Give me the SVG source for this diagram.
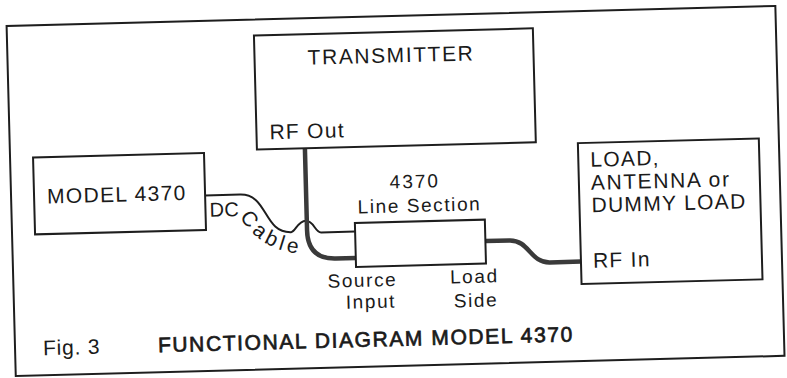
<svg xmlns="http://www.w3.org/2000/svg" width="787" height="378" viewBox="0 0 787 378">
<style>
.box{fill:none;stroke:#1e1e1e;stroke-width:2}
.t{font-family:"Liberation Sans",Arial,sans-serif;font-size:21px;fill:#1a1a1a;letter-spacing:1.3px}
.s{font-size:19px;letter-spacing:1.6px}
.m{text-anchor:middle}
.thick{fill:none;stroke:#3a3a3a;stroke-width:4.5}
.thin{fill:none;stroke:#1e1e1e;stroke-width:2}
</style>
<defs>
<path id="cablePath" d="M239,213 Q261,250 306,252"/>
</defs>
<rect width="787" height="378" fill="#ffffff"/>
<g transform="rotate(-1.5 393 189)">
<rect id="frame" class="box" x="11" y="16" width="769" height="350"/>
<g id="connectors">
<path class="thin" d="M205,190.5 H240 C268,190.5 262,229.5 290,229.5 C294,229.5 297,218.5 305,218.5 C313,218.5 314,230.5 320,230.5 H354"/>
<path class="thick" d="M306,146 V228 Q306,257 334,257 H354"/>
<path class="thick" d="M484,243.5 H508 C528,243.5 528,266.5 548,266.5 H579"/>
<text class="t" x="209" y="212" style="font-size:20px;letter-spacing:0.5px">DC</text>
<text class="t" style="font-size:21px;letter-spacing:4px"><textPath href="#cablePath">Cable</textPath></text>
</g>
<g id="transmitter">
<rect class="box" x="258" y="32" width="279" height="114"/>
<text class="t" x="311" y="62.5" style="letter-spacing:1.6px">TRANSMITTER</text>
<text class="t" x="271" y="136">RF Out</text>
</g>
<g id="model4370">
<rect class="box" x="34" y="148" width="171" height="77"/>
<text class="t" x="47" y="194.5">MODEL 4370</text>
</g>
<g id="linesection">
<rect class="box" x="354" y="222" width="130" height="44"/>
<text class="t s m" x="415" y="188.5" style="letter-spacing:2px">4370</text>
<text class="t s m" x="419" y="212.5">Line Section</text>
<text class="t s m" x="360" y="286">Source</text>
<text class="t s m" x="368" y="307.5">Input</text>
<text class="t s m" x="472" y="285">Load</text>
<text class="t s m" x="473" y="309">Side</text>
</g>
<g id="load">
<rect class="box" x="579" y="148" width="181" height="141"/>
<text class="t" x="591" y="172">LOAD,</text>
<text class="t" x="591" y="195" style="letter-spacing:1.6px">ANTENNA or</text>
<text class="t" x="591" y="217.5">DUMMY LOAD</text>
<text class="t" x="591" y="273">RF In</text>
</g>
<g id="caption">
<text class="t" x="39" y="346" style="letter-spacing:0.8px">Fig. 3</text>
<text class="t" x="154" y="346" style="stroke:#1a1a1a;stroke-width:0.7px;letter-spacing:1.6px">FUNCTIONAL DIAGRAM MODEL 4370</text>
</g>
</g>
</svg>
